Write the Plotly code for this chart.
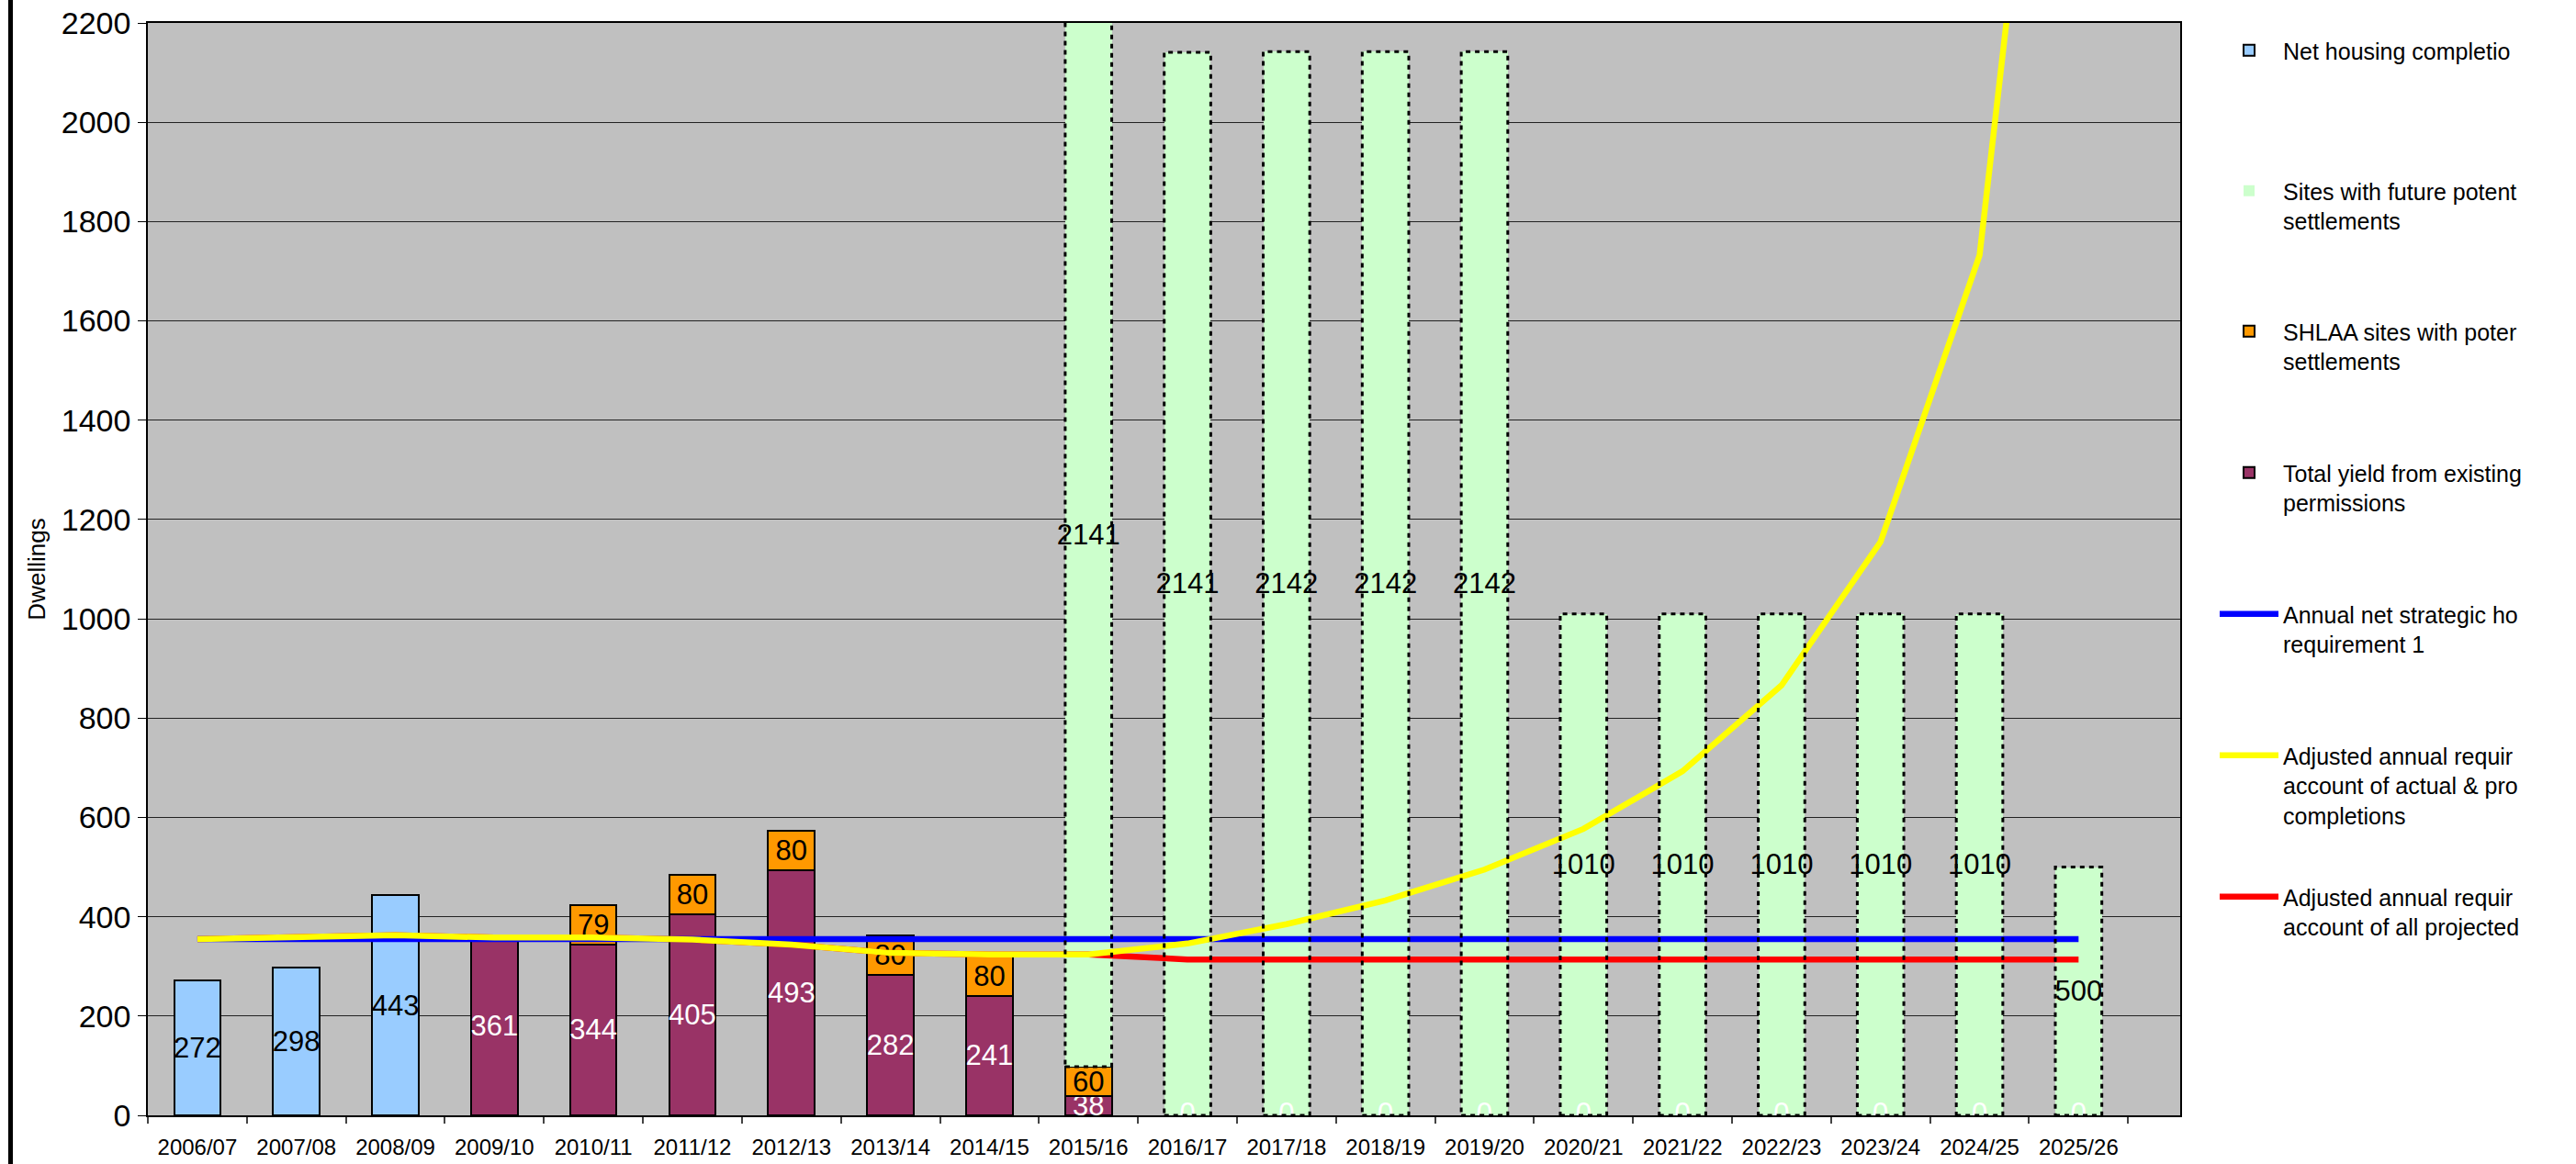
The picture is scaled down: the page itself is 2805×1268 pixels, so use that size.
import plotly.graph_objects as go

# ---------------- data ----------------
categories = ["2006/07", "2007/08", "2008/09", "2009/10", "2010/11", "2011/12", "2012/13",
              "2013/14", "2014/15", "2015/16", "2016/17", "2017/18", "2018/19", "2019/20",
              "2020/21", "2021/22", "2022/23", "2023/24", "2024/25", "2025/26"]

net_completions = [272, 298, 443, None, None, None, None, None, None, None,
                   None, None, None, None, None, None, None, None, None, None]
existing_permissions = [None, None, None, 361, 344, 405, 493, 282, 241, 38,
                        0, 0, 0, 0, 0, 0, 0, 0, 0, 0]
shlaa_sites = [None, None, None, None, 79, 80, 80, 80, 80, 60,
               None, None, None, None, None, None, None, None, None, None]
future_sites = [None, None, None, None, None, None, None, None, None, 2141,
                2141, 2142, 2142, 2142, 1010, 1010, 1010, 1010, 1010, 500]

strategic_requirement = [355, 355, 355, 355, 355, 355, 355, 355, 355, 355,
                         355, 355, 355, 355, 355, 355, 355, 355, 355, 355]
adjusted_actual_projected = [355, 359, 363, 358, 358, 354, 344, 327, 324, 324,
                             346, 385, 433, 495, 577, 693, 866, 1155, 1732, 3464]
adjusted_all_projected = [355, 359, 363, 358, 358, 354, 344, 327, 324, 324,
                          314, 314, 314, 314, 314, 314, 314, 314, 314, 314]

legend_names = [
    "Net housing completio",
    "Sites with future potent<br>settlements",
    "SHLAA sites with poter<br>settlements",
    "Total yield from existing<br>permissions",
    "Annual net strategic ho<br>requirement 1",
    "Adjusted annual requir<br>account of actual & pro<br>completions",
    "Adjusted annual requir<br>account of all projected",
]

# ---------------- styling ----------------
FONT = "Liberation Sans, Arial, sans-serif"
BAR_W = 0.47
LABEL_SIZE = 31
W, H = 2805, 1268
PL, PR, PT, PB = 161, 2374, 25, 1215  # plot area in px

fig = go.Figure()

def bar(values, name, color, textcolor, legend, outline=True):
    fig.add_trace(go.Bar(
        x=categories, y=values, name=name, width=BAR_W,
        marker=dict(color=color, line=dict(color="black", width=2 if outline else 0)),
        texttemplate="%{y}", textposition="inside", insidetextanchor="middle",
        constraintext="none", textangle=0,
        textfont=dict(family=FONT, size=LABEL_SIZE, color=textcolor),
        legend=legend,
    ))

bar(net_completions, legend_names[0], "#99CCFF", "black", "legend")
bar(existing_permissions, legend_names[3], "#993366", "white", "legend4")
bar(shlaa_sites, legend_names[2], "#FF9900", "black", "legend3")
bar(future_sites, legend_names[1], "#CCFFCC", "black", "legend2", outline=False)

# zero-value labels of the existing-permissions series (sit on the axis)
zx = [c for c, v in zip(categories, existing_permissions) if v == 0]
zy = [v for v in existing_permissions if v == 0]
fig.add_trace(go.Scatter(
    x=zx, y=zy, mode="text", text=[str(v) for v in zy], textposition="middle center",
    textfont=dict(family=FONT, size=LABEL_SIZE, color="white"),
    showlegend=False, hoverinfo="skip", cliponaxis=True,
))

def line(values, name, color, legend):
    fig.add_trace(go.Scatter(
        x=categories, y=values, name=name, mode="lines",
        line=dict(color=color, width=6.5), legend=legend,
    ))

line(adjusted_all_projected, legend_names[6], "#FF0000", "legend7")
line(strategic_requirement, legend_names[4], "#0000FF", "legend5")
line(adjusted_actual_projected, legend_names[5], "#FFFF00", "legend6")

# dashed outlines of the future-sites bars (derived from the stacked data)
shapes = []
for i, v in enumerate(future_sites):
    if v is None:
        continue
    base = sum((s[i] or 0) for s in (net_completions, existing_permissions, shlaa_sites))
    shapes.append(dict(
        type="rect", xref="x", yref="y",
        x0=i - BAR_W / 2, x1=i + BAR_W / 2, y0=base, y1=base + v,
        line=dict(color="black", width=3, dash="5px,5px"),
        fillcolor="rgba(0,0,0,0)", layer="above",
    ))
# chart border line at the far left
bx = (11.5 - PL) / (PR - PL)
shapes.append(dict(type="line", xref="paper", yref="paper", x0=bx, x1=bx, y0=-0.1, y1=1.1,
                   line=dict(color="black", width=5)))

# legends positioned individually
legend_layout = {}
first_line_px = [57, 210, 363, 517, 671, 825, 979]
for k, cy in enumerate(first_line_px):
    key = "legend" if k == 0 else f"legend{k+1}"
    legend_layout[key] = dict(
        x=(2412 - PL) / (PR - PL), xanchor="left",
        y=(PB - (cy - 25)) / (PB - PT), yanchor="top",
        bgcolor="rgba(0,0,0,0)", borderwidth=0,
        font=dict(family=FONT, size=25, color="black"),
        valign="top", itemwidth=64,
    )

fig.update_layout(
    width=W, height=H, autosize=False,
    margin=dict(l=PL, r=W - PR, t=PT, b=H - PB, pad=0, autoexpand=False),
    paper_bgcolor="white", plot_bgcolor="#C0C0C0",
    barmode="stack", showlegend=True,
    font=dict(family=FONT, color="black"),
    shapes=shapes,
    **legend_layout,
)

fig.update_xaxes(
    type="category", showgrid=False, zeroline=False, automargin=False,
    showline=True, linecolor="black", linewidth=1.5, mirror=True,
    ticks="outside", tickson="boundaries", ticklen=7, tickcolor="#444", tickwidth=1.5,
    tickfont=dict(family=FONT, size=24, color="black"), ticklabelstandoff=12,
)
fig.update_yaxes(
    range=[0, 2200], dtick=200, tick0=0, automargin=False,
    showgrid=True, gridcolor="#222", gridwidth=1, zeroline=False,
    showline=True, linecolor="black", linewidth=1.5, mirror=True,
    ticks="outside", ticklen=9, tickcolor="black", tickwidth=1,
    tickfont=dict(family=FONT, size=34, color="black"), ticklabelstandoff=1,
    title=dict(text="Dwellings", font=dict(family=FONT, size=26, color="black"), standoff=10),
)

fig.write_html(
    "out.html",
    config={"displayModeBar": False},
    post_script="document.body.style.margin='0px'; document.body.style.overflow='hidden';",
)
